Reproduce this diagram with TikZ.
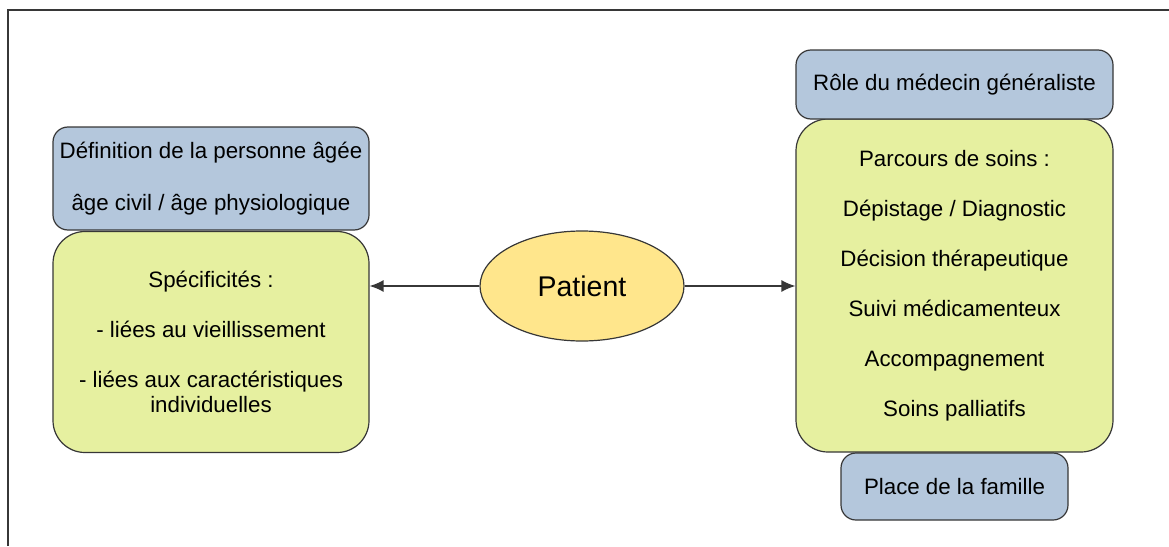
\documentclass[tikz,border=0pt]{standalone}
\usepackage{fontspec}
\setmainfont{Liberation Sans}
\usetikzlibrary{shapes.geometric, arrows.meta}
\definecolor{boxblue}{RGB}{180,199,220}
\definecolor{boxgreen}{RGB}{230,240,160}
\definecolor{boxyellow}{RGB}{255,230,140}
\definecolor{edgegray}{RGB}{55,55,55}
\tikzset{
  bluebox/.style={draw=edgegray, line width=1.2pt, fill=boxblue, rounded corners=15pt, align=center, inner sep=0pt},
  greenbox/.style={draw=edgegray, line width=1.2pt, fill=boxgreen, rounded corners=32pt, align=center, inner sep=0pt},
  txt/.style={font=\fontsize{22.3}{25}\selectfont}
}
\begin{document}
\begin{tikzpicture}[x=1pt, y=-1pt]
    \tikzset{>={Latex[length=14pt,width=12pt]}}
    \useasboundingbox (0,0) rectangle (1169,546);
    \draw [edgegray, line width=1.2pt] (8,546) -- (8,10) -- (1169,10);
    % left side
    \node [greenbox, txt, minimum width=316pt, minimum height=221pt] (specif) at (211,342)
      {Spécificités :\\[25pt] - liées au vieillissement\\[25pt] - liées aux caractéristiques\\individuelles};
    \node [bluebox, txt, minimum width=316pt, minimum height=103pt] (defin) at (211,178.5)
      {Définition de la personne âgée\\[27pt] âge civil / âge physiologique};
    % right side
    \node [greenbox, txt, minimum width=317pt, minimum height=333pt] (parcours) at (954.5,285.5)
      {Parcours de soins :\\[25pt] Dépistage / Diagnostic\\[25pt] Décision thérapeutique\\[25pt]
       Suivi médicamenteux\\[25pt] Accompagnement\\[25pt] Soins palliatifs};
    \node [bluebox, txt, minimum width=317pt, minimum height=69pt] (role) at (954.5,84.5)
      {Rôle du médecin généraliste};
    \node [bluebox, txt, minimum width=227pt, minimum height=67pt] (famille) at (954.5,486.5)
      {Place de la famille};
    % centre
    \node [draw=edgegray, line width=1.2pt, fill=boxyellow, ellipse, minimum width=204pt, minimum height=110pt,
      inner sep=0pt, font=\fontsize{28.5}{32}\selectfont] (patient) at (582,286) {Patient};
    \draw [->, edgegray, line width=1.4pt] (patient.west) -- (specif.east |- patient.west);
    \draw [->, edgegray, line width=1.4pt] (patient.east) -- (parcours.west |- patient.east);
\end{tikzpicture}
\end{document}
